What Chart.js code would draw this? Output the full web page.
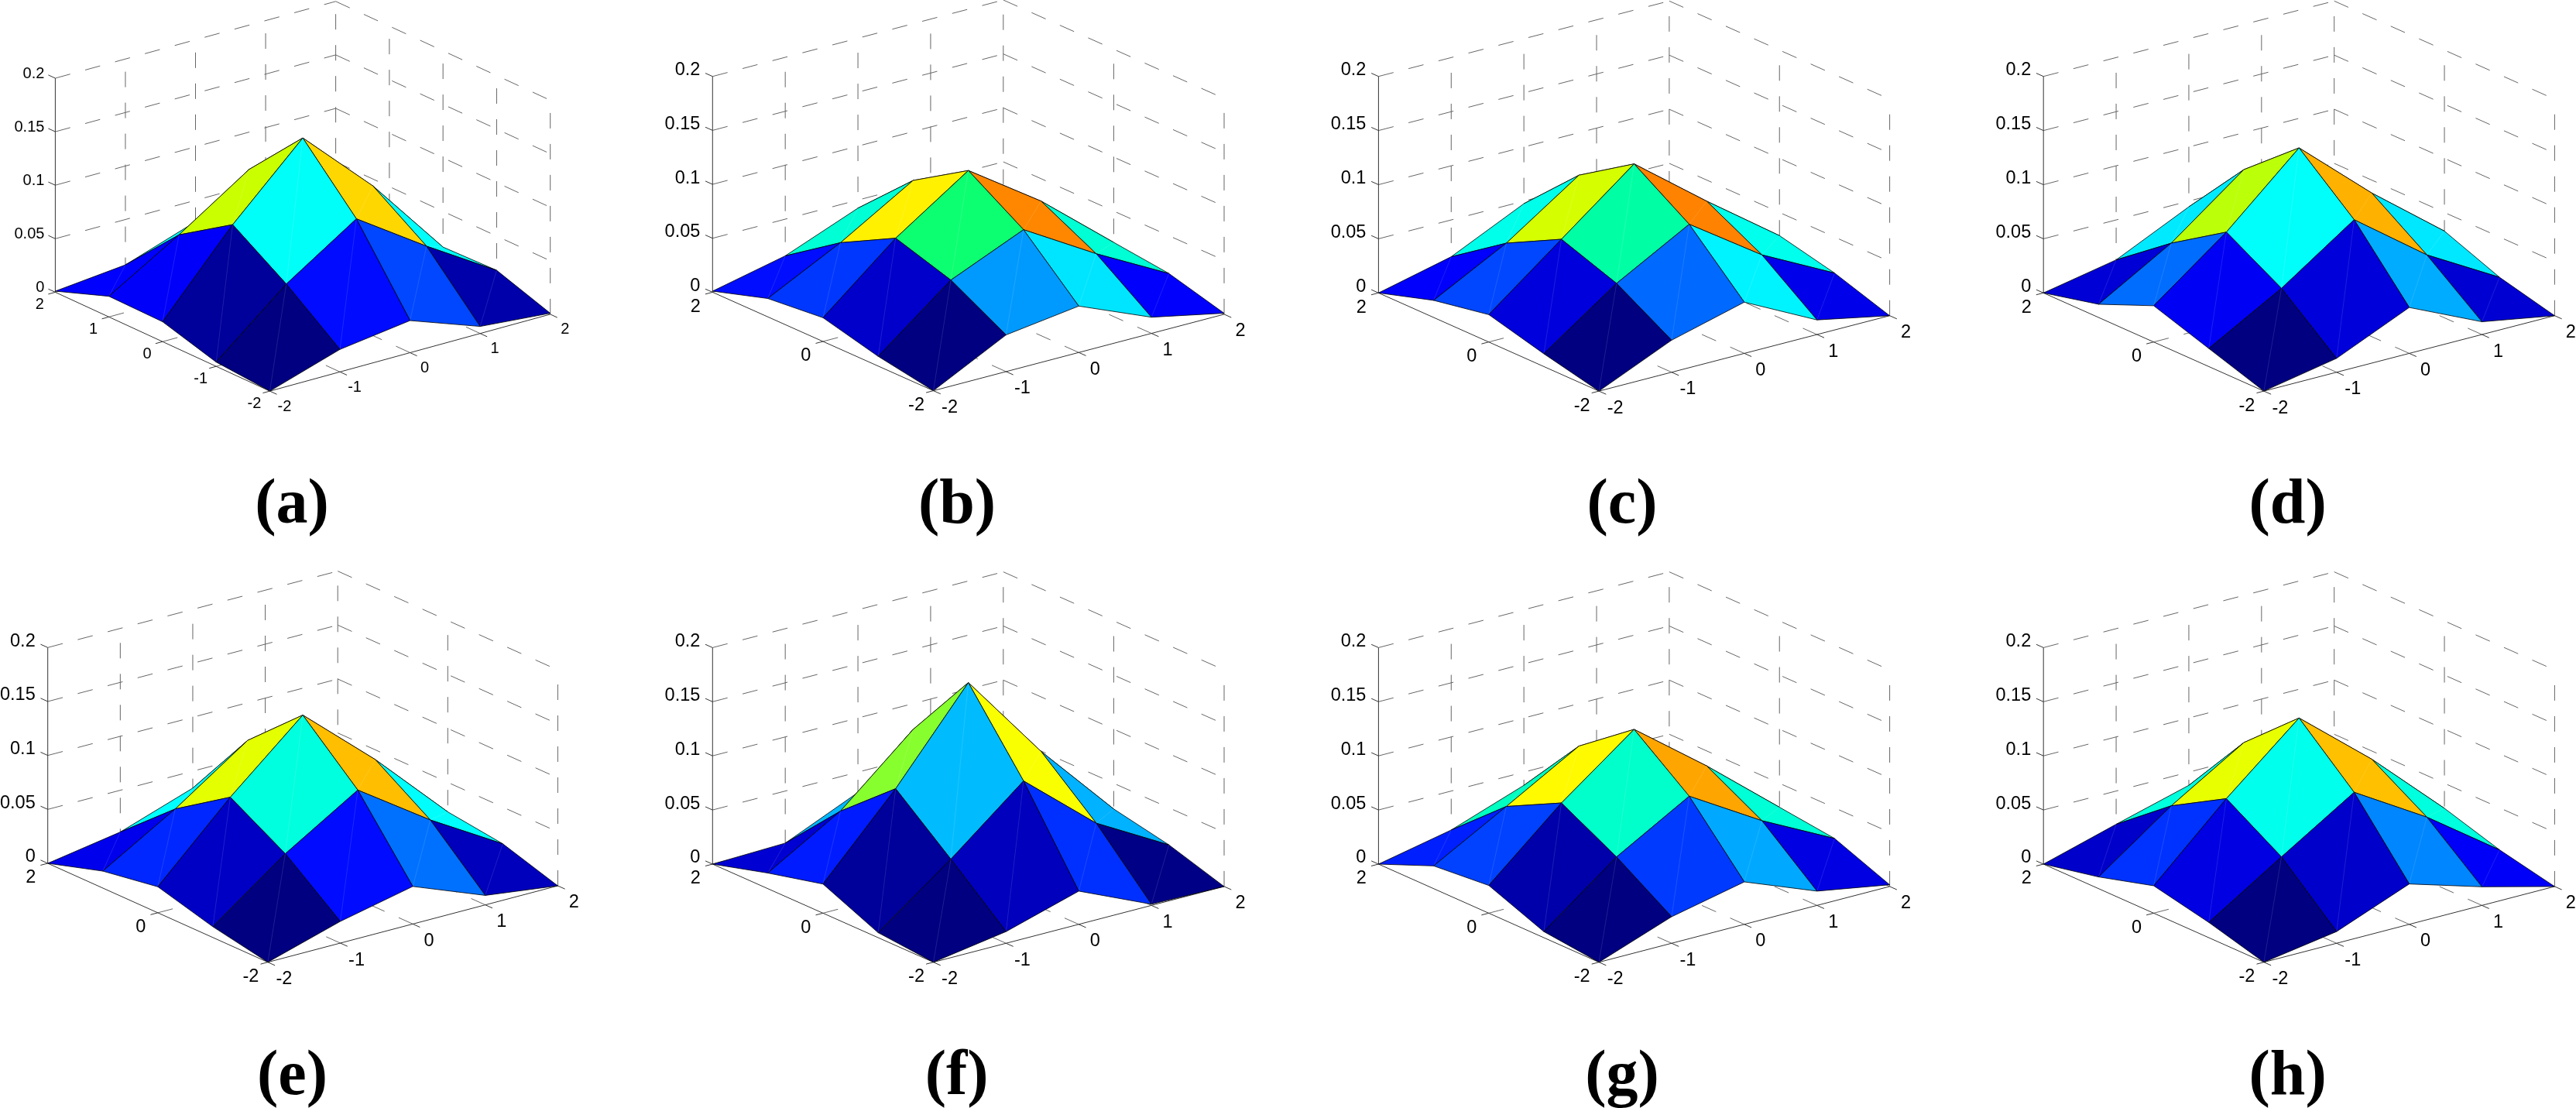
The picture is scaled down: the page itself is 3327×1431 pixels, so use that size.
<!DOCTYPE html>
<html>
<head>
<meta charset="utf-8">
<title>Surfaces</title>
<script src="https://cdn.jsdelivr.net/npm/chart.js@4"></script>
<style>
    html, body { margin: 0; padding: 0; background: #fff; }
    body { position: relative; width: 3327px; height: 1431px; overflow: hidden; }
    canvas { position: absolute; }
</style>
</head>
<body>
<script>
// heights of the surface, rows run along the left axis (-2..2), columns along the right axis (-2..2)
const surfaceA = [
    [0.000, 0.021, 0.030, 0.0066, 0.001],
    [0.004, 0.059, 0.102, 0.0585, 0.018],
    [0.0186, 0.0914, 0.1545, 0.0917, 0.0166],
    [0.0193, 0.0588, 0.102, 0.056, 0.018],
    [0.001, 0.0076, 0.030, 0.020, 0.001]
];
const surfaceB = [
    [0.000, 0.034, 0.043, 0.015, 0.001],
    [0.009, 0.062, 0.091, 0.051, 0.015],
    [0.022, 0.078, 0.123, 0.077, 0.021],
    [0.017, 0.051, 0.091, 0.050, 0.015],
    [0.001, 0.016, 0.0425, 0.030, 0.001]
];
const surfaceC = [
    [0.000, 0.0296, 0.0473, 0.0135, 0.000],
    [0.0118, 0.0594, 0.0966, 0.0509, 0.0167],
    [0.0253, 0.0775, 0.1297, 0.0778, 0.0286],
    [0.0158, 0.0512, 0.0966, 0.050, 0.016],
    [0.000, 0.016, 0.0476, 0.030, 0.001]
];
const surfaceD = [
    [0.000, 0.0128, 0.0424, 0.0118, 0.000],
    [0.0167, 0.0548, 0.1008, 0.0509, 0.0128],
    [0.0335, 0.0841, 0.1445, 0.0854, 0.0328],
    [0.0122, 0.0512, 0.1018, 0.050, 0.015],
    [0.000, 0.0131, 0.0447, 0.030, 0.000]
];
const surfaceE = [
    [0.000, 0.0201, 0.0348, 0.0088, 0.000],
    [0.010, 0.0599, 0.1012, 0.0558, 0.016],
    [0.0241, 0.0894, 0.1478, 0.0889, 0.0227],
    [0.0157, 0.0556, 0.1015, 0.056, 0.016],
    [0.000, 0.0113, 0.0343, 0.020, 0.000]
];
const surfaceF = [
    [0.000, 0.0108, 0.0307, 0.0011, 0.000],
    [0.0046, 0.055, 0.1098, 0.0533, 0.0158],
    [0.0269, 0.0975, 0.178, 0.097, 0.0263],
    [0.0144, 0.0541, 0.1121, 0.054, 0.015],
    [0.000, 0.0019, 0.0312, 0.010, 0.000]
];
const surfaceG = [
    [0.000, 0.0245, 0.0392, 0.0132, 0.0016],
    [0.0056, 0.0571, 0.0957, 0.0556, 0.0217],
    [0.0256, 0.0843, 0.1348, 0.0835, 0.0279],
    [0.021, 0.0584, 0.0967, 0.056, 0.020],
    [0.000, 0.014, 0.0378, 0.025, 0.000]
];
const surfaceH = [
    [0.000, 0.0108, 0.0373, 0.0172, 0.000],
    [0.0141, 0.0571, 0.0993, 0.0589, 0.0112],
    [0.0253, 0.0883, 0.1453, 0.0898, 0.0269],
    [0.0108, 0.059, 0.100, 0.058, 0.012],
    [0.000, 0.0193, 0.0378, 0.025, 0.000]
];

const zTicks = [0, 0.05, 0.1, 0.15, 0.2];
const zTickLabels = ['0', '0.05', '0.1', '0.15', '0.2'];
const rightTicks = [-2, -1, 0, 1, 2];
const leftTicksDense = [-2, -1, 0, 1, 2];
const leftTicksSparse = [-2, 0, 2];

const captions = ['(a)', '(b)', '(c)', '(d)', '(e)', '(f)', '(g)', '(h)'];
const surfaces = [surfaceA, surfaceB, surfaceC, surfaceD, surfaceE, surfaceF, surfaceG, surfaceH];

// page geometry of each panel: corners of the floor and the height of the z axis, in px
const views = [
    { box: [0, 0], left: [71.4, 377.4], front: [348.5, 505.1], right: [710.7, 405.9], h: 276.4, cap: [377, 675] },
    { box: [830, 0], left: [920.3, 377.4], front: [1205.5, 504.6], right: [1581, 405.9], h: 278.7, cap: [1236, 675] },
    { box: [1660, 0], left: [1780.4, 378.3], front: [2065.1, 505.1], right: [2440.6, 407.7], h: 279.6, cap: [2095, 675] },
    { box: [2527, 0], left: [2639.2, 378.3], front: [2923.9, 505.1], right: [3299.4, 407.7], h: 279.6, cap: [2954.6, 675] },
    { box: [0, 711], left: [61.7, 1115], front: [345.9, 1242.7], right: [720.4, 1144], h: 278.7, cap: [377.5, 1413] },
    { box: [830, 711], left: [920.3, 1116], front: [1205.5, 1242.7], right: [1581, 1144.9], h: 279.6, cap: [1235.6, 1413] },
    { box: [1660, 711], left: [1780.4, 1116], front: [2065.1, 1242.7], right: [2440.6, 1144.9], h: 279.6, cap: [2095, 1413] },
    { box: [2527, 711], left: [2639.2, 1116], front: [2923.9, 1242.7], right: [3299.4, 1144.9], h: 279.6, cap: [2954.6, 1413] }
];

// the jet map as it came out of the original figure
const mapStops = [
    [0, 0, 0, 0.5],
    [0.125, 0, 0, 1],
    [0.375, 0, 1, 1],
    [0.5, 0, 1, 0.47],
    [0.543, 0.5, 1, 0.2],
    [0.59, 0.78, 1, 0],
    [0.62, 1, 1, 0],
    [0.875, 1, 0, 0],
    [1, 0.5, 0, 0]
];

function mapColor(t) {
    let i = 0;
    while (i < mapStops.length - 2 && t > mapStops[i + 1][0]) i++;
    const a = mapStops[i], b = mapStops[i + 1];
    const f = Math.min(1, Math.max(0, (t - a[0]) / (b[0] - a[0])));
    const c = [1, 2, 3].map(k => Math.round(255 * (a[k] + (b[k] - a[k]) * f)));
    return `rgb(${c[0]},${c[1]},${c[2]})`;
}

// u runs along the left axis, v along the right axis, both -2..2
function project(view, u, v, z) {
    const du = (u + 2) / 4, dv = (v + 2) / 4;
    return {
        x: view.front[0] + du * (view.left[0] - view.front[0]) + dv * (view.right[0] - view.front[0]) - view.box[0],
        y: view.front[1] + du * (view.left[1] - view.front[1]) + dv * (view.right[1] - view.front[1]) - z / 0.2 * view.h - view.box[1]
    };
}

function lineSet(points, color, dash) {
    return {
        data: points,
        showLine: true,
        fill: false,
        borderColor: color,
        borderWidth: 1,
        borderDash: dash || [],
        pointRadius: 0,
        tension: 0
    };
}

function buildDatasets(view, z, leftTicks) {
    const sets = [];
    const grey = '#666';
    const dash = [20, 20];

    // walls and floor
    zTicks.filter(t => t > 0).forEach(t => {
        sets.push(lineSet([project(view, 2, -2, t), project(view, 2, 2, t)], grey, dash));
        sets.push(lineSet([project(view, 2, 2, t), project(view, -2, 2, t)], grey, dash));
    });
    rightTicks.filter(t => t > -2).forEach(t => {
        sets.push(lineSet([project(view, 2, t, 0), project(view, 2, t, 0.2)], grey, dash));
    });
    leftTicks.filter(t => t < 2).forEach(t => {
        sets.push(lineSet([project(view, t, 2, 0), project(view, t, 2, 0.2)], grey, dash));
    });
    leftTicks.filter(t => t > -2).forEach(t => {
        sets.push(lineSet([project(view, t, -2, 0), project(view, t, 2, 0)], grey, dash));
    });
    rightTicks.filter(t => t > -2).forEach(t => {
        sets.push(lineSet([project(view, -2, t, 0), project(view, 2, t, 0)], grey, dash));
    });

    // solid axes and their ticks
    const axis = '#333';
    sets.push(lineSet([project(view, 2, -2, 0), project(view, -2, -2, 0)], axis));
    sets.push(lineSet([project(view, -2, -2, 0), project(view, -2, 2, 0)], axis));
    sets.push(lineSet([project(view, 2, -2, 0), project(view, 2, -2, 0.2)], axis));
    zTicks.forEach(t => {
        sets.push(lineSet([project(view, 2, -2, t), project(view, 2.13, -2, t)], axis));
    });
    leftTicks.forEach(t => {
        sets.push(lineSet([project(view, t, -2, 0), project(view, t, -2.1, 0)], axis));
    });
    rightTicks.forEach(t => {
        sets.push(lineSet([project(view, -2, t, 0), project(view, -2.13, t, 0)], axis));
    });

    // faces back to front, coloured from their lowest corner like surf does
    const zMax = Math.max(...z.flat());
    const cells = [];
    for (let i = 0; i < 4; i++) {
        for (let j = 0; j < 4; j++) cells.push([i, j]);
    }
    cells.sort((a, b) => (b[0] + b[1]) - (a[0] + a[1]));
    cells.forEach(([i, j]) => {
        const p = (a, b) => project(view, a - 2, b - 2, z[a][b]);
        sets.push({
            data: [p(i, j), p(i + 1, j), p(i + 1, j + 1), p(i, j + 1), p(i, j)],
            showLine: true,
            fill: 'shape',
            backgroundColor: mapColor(z[i][j] / zMax),
            borderColor: 'rgba(0,0,0,0.8)',
            borderWidth: 1,
            pointRadius: 0,
            tension: 0
        });
        sets.push(lineSet([p(i, j), p(i + 1, j + 1)], 'rgba(255,255,255,0.12)'));
    });

    // first dataset ends up on top in Chart.js
    return sets.reverse();
}

const panelText = {
    id: 'panelText',
    afterDraw(chart, args, opts) {
        const { ctx, scales } = chart;
        const view = opts.view;
        const at = p => [scales.x.getPixelForValue(p.x), scales.y.getPixelForValue(p.y)];
        ctx.save();
        ctx.fillStyle = '#000';
        ctx.font = `${opts.tickSize}px "Liberation Sans"`;
        ctx.textBaseline = 'middle';

        ctx.textAlign = 'right';
        zTicks.forEach((t, i) => {
            const [x, y] = at(project(view, 2, -2, t));
            ctx.fillText(zTickLabels[i], x + opts.zOffset[0], y + opts.zOffset[1]);
        });

        ctx.textAlign = 'center';
        opts.leftTicks.forEach(t => {
            const [x, y] = at(project(view, t, -2, 0));
            ctx.fillText(String(t), x + opts.leftOffset[0], y + opts.leftOffset[1]);
        });
        rightTicks.forEach(t => {
            const [x, y] = at(project(view, -2, t, 0));
            ctx.fillText(String(t), x + opts.rightOffset[0], y + opts.rightOffset[1]);
        });

        ctx.font = 'bold 82px "Liberation Serif"';
        ctx.textBaseline = 'alphabetic';
        ctx.fillText(opts.caption, view.cap[0] - view.box[0], view.cap[1] - view.box[1]);
        ctx.restore();
    }
};

views.forEach((view, idx) => {
    const first = idx === 0;
    const leftTicks = first ? leftTicksDense : leftTicksSparse;
    const width = idx % 4 === 3 ? 800 : 830;
    const height = 720;

    const canvas = document.createElement('canvas');
    canvas.width = width;
    canvas.height = height;
    canvas.style.left = view.box[0] + 'px';
    canvas.style.top = view.box[1] + 'px';
    document.body.appendChild(canvas);

    new Chart(canvas.getContext('2d'), {
        type: 'scatter',
        data: { datasets: buildDatasets(view, surfaces[idx], leftTicks) },
        plugins: [panelText],
        options: {
            responsive: false,
            animation: false,
            events: [],
            clip: false,
            layout: { padding: 0 },
            scales: {
                x: { type: 'linear', min: 0, max: width, display: false },
                y: { type: 'linear', min: 0, max: height, reverse: true, display: false }
            },
            plugins: {
                legend: { display: false },
                tooltip: { enabled: false },
                panelText: {
                    view,
                    leftTicks,
                    caption: captions[idx],
                    tickSize: first ? 20 : 23.5,
                    zOffset: first ? [-14, -6] : [-16, -8],
                    leftOffset: first ? [-20, 16] : [-22, 19],
                    rightOffset: first ? [19, 20] : [21, 22]
                }
            }
        }
    });
});
</script>
</body>
</html>
